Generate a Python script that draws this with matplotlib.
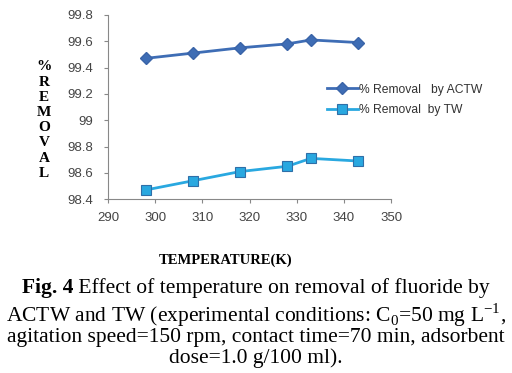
import matplotlib.pyplot as plt

plt.rcParams['mathtext.fontset'] = 'custom'
plt.rcParams['mathtext.rm'] = 'Liberation Serif'
plt.rcParams['mathtext.bf'] = 'Liberation Serif:bold'

temps = [298, 308, 318, 328, 333, 343]
actw = [99.47, 99.51, 99.55, 99.58, 99.61, 99.59]
tw = [98.47, 98.54, 98.61, 98.65, 98.71, 98.69]
yticks = [98.4, 98.6, 98.8, 99.0, 99.2, 99.4, 99.6, 99.8]
ylabels = ['98.4', '98.6', '98.8', '99', '99.2', '99.4', '99.6', '99.8']
xticks = [290, 300, 310, 320, 330, 340, 350]

fig = plt.figure(figsize=(5.12, 3.73), dpi=100)
ax = fig.add_axes([0.211, 0.466, 0.553, 0.494])

ax.plot(temps, actw, color='#3E6DB5', lw=2, marker='D', ms=6,
        mec='#3A64A8', label='% Removal   by ACTW')
ax.plot(temps, tw, color='#29A8E0', lw=2, marker='s', ms=7.5,
        mec='#2F6FA8', mew=0.8, label='% Removal  by TW')

ax.set_xlim(290, 350)
ax.set_ylim(98.4, 99.8)
ax.set_xticks(xticks)
ax.set_yticks(yticks)
ax.set_yticklabels(ylabels)
for s in ['top', 'right']:
    ax.spines[s].set_visible(False)
for s in ['left', 'bottom']:
    ax.spines[s].set_color('#888888')
    ax.spines[s].set_linewidth(0.8)
ax.tick_params(length=3, color='#888888', labelsize=9.5, labelcolor='#444444')
ax.tick_params(axis='x', pad=6)
ax.tick_params(axis='y', pad=8)
for lab in ax.get_xticklabels() + ax.get_yticklabels():
    lab.set_family('Liberation Sans')

leg = ax.legend(loc='upper left', bbox_to_anchor=(0.617, 0.805),
                bbox_transform=fig.transFigure, frameon=False,
                handlelength=2.6, handletextpad=0.1, labelspacing=0.7,
                prop={'family': 'Liberation Sans', 'size': 8.7})
for t in leg.get_texts():
    t.set_color('#333333')

# stacked y label
fig.text(0.086, 0.678, '%\nR\nE\nM\nO\nV\nA\nL', ha='center', va='center',
         family='Liberation Serif', weight='bold', size=11, linespacing=1.22)

fig.text(0.44, 0.303, 'TEMPERATURE(K)', ha='center', va='center',
         family='Liberation Serif', weight='bold', size=10.5)

# caption; first line has a bold lead-in
capsize = 15.5
renderer = fig.canvas.get_renderer()
bold = fig.text(0, 0.228, 'Fig. 4', ha='left', va='center',
                family='Liberation Serif', weight='bold', size=capsize)
rest = fig.text(0, 0.228, ' Effect of temperature on removal of fluoride by',
                ha='left', va='center', family='Liberation Serif', size=capsize)
wb = bold.get_window_extent(renderer).width
wr = rest.get_window_extent(renderer).width
figw = fig.bbox.width
x0 = (figw - wb - wr) / 2 / figw
bold.set_x(x0)
rest.set_x(x0 + wb / figw)

cap = [r'ACTW and TW (experimental conditions: C$_0$=50 mg L$^{-1}$,',
       'agitation speed=150 rpm, contact time=70 min, adsorbent',
       'dose=1.0 g/100 ml).']
ys = [0.155, 0.096, 0.04]
for line, y in zip(cap, ys):
    fig.text(0.5, y, line, ha='center', va='center',
             family='Liberation Serif', size=capsize)

fig.savefig('out.png', dpi=100)
